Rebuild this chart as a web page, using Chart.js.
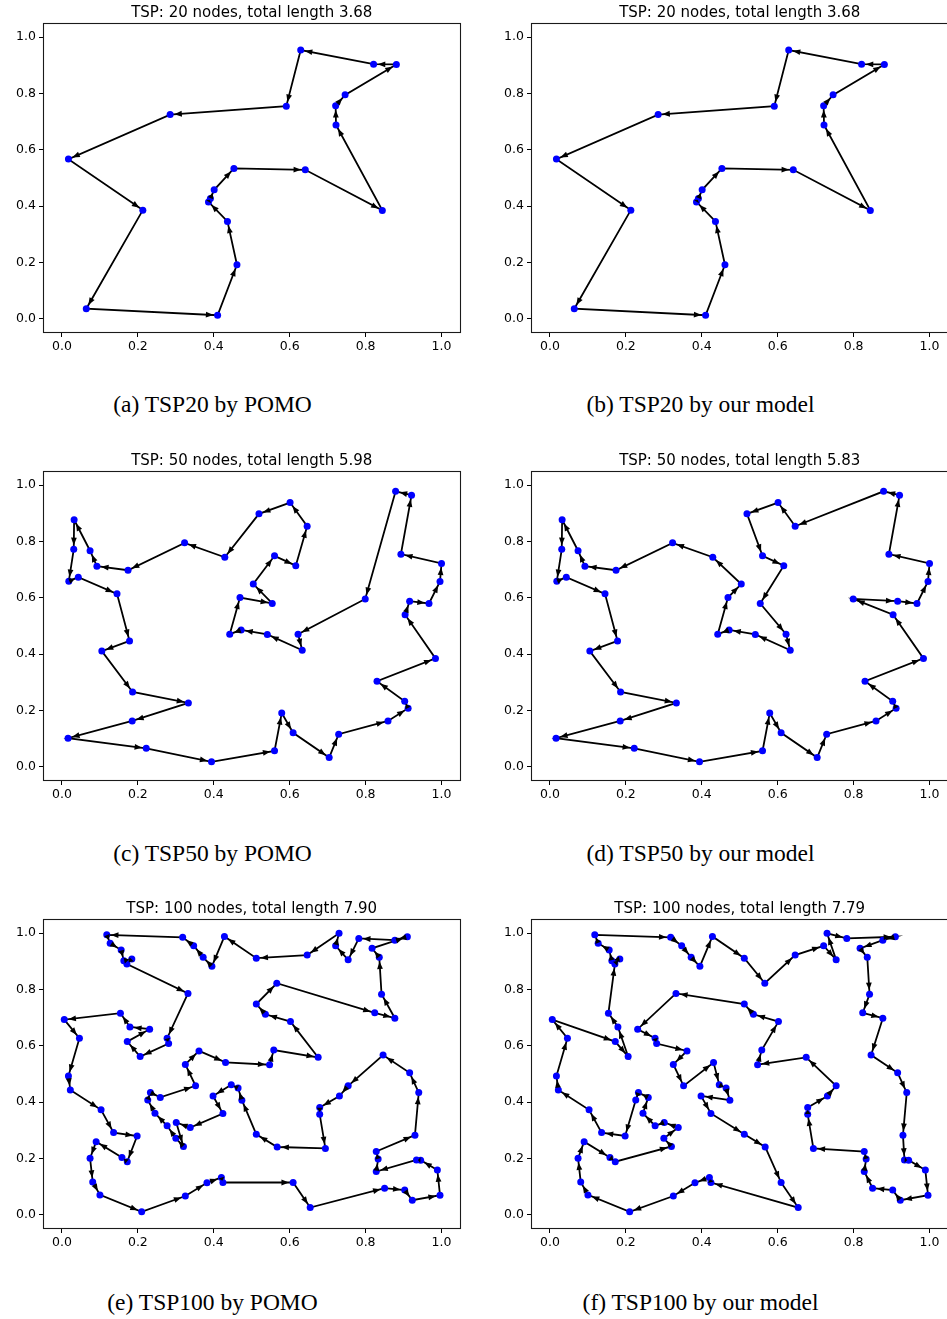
<!DOCTYPE html>
<html><head><meta charset="utf-8">
<script src="https://cdn.jsdelivr.net/npm/chart.js@4.4.1/dist/chart.umd.min.js"></script>
<style>
html,body{margin:0;padding:0;width:947px;height:1319px;overflow:hidden;background:#fff;}
canvas{position:absolute;}
.cap{position:absolute;width:440px;text-align:center;font-family:'Liberation Serif','Times New Roman',serif;font-size:23.5px;line-height:28px;color:#000;white-space:nowrap;}
</style></head><body>
<script>
// ---------- data ----------
const tickValues = [0.0, 0.2, 0.4, 0.6, 0.8, 1.0];

// TSP20 instance (panels a, b)
const tsp20X = [0.881,0.821,0.629,0.591,0.285,0.017,0.213,0.064,0.410,0.461,0.436,0.386,0.391,0.401,0.453,0.641,0.844,0.722,0.721,0.746];
const tsp20Y = [0.903,0.904,0.954,0.755,0.725,0.567,0.386,0.036,0.013,0.192,0.346,0.415,0.427,0.458,0.534,0.529,0.385,0.688,0.756,0.795];
const tourA = [1,2,3,4,5,6,7,8,9,10,11,12,13,14,15,16,17,18,19,20];
const tourB = [1,2,3,4,5,6,7,8,9,10,11,12,13,14,15,16,17,18,19,20];

// TSP50 instance (panels c, d)
const tsp50X = [0.032,0.031,0.018,0.043,0.074,0.092,0.174,0.323,0.429,0.519,0.601,0.646,0.616,0.560,0.504,0.554,0.469,0.442,0.472,0.541,0.633,0.622,0.799,0.879,0.921,0.893,1.000,0.996,0.967,0.916,0.904,0.984,0.830,0.903,0.912,0.859,0.729,0.704,0.609,0.579,0.560,0.394,0.222,0.016,0.185,0.333,0.186,0.105,0.178,0.145];
const tsp50Y = [0.877,0.772,0.659,0.673,0.767,0.712,0.698,0.795,0.744,0.898,0.938,0.854,0.714,0.749,0.649,0.580,0.601,0.471,0.486,0.470,0.414,0.471,0.596,0.978,0.964,0.755,0.722,0.658,0.580,0.588,0.540,0.385,0.304,0.233,0.208,0.163,0.116,0.033,0.121,0.191,0.057,0.018,0.066,0.102,0.163,0.227,0.266,0.411,0.447,0.614];
const tourC = [1,2,3,4,50,49,48,47,46,45,44,43,42,41,40,39,38,37,36,35,34,33,32,31,30,29,28,27,26,25,24,23,22,21,20,19,18,17,16,15,14,13,12,11,10,9,8,7,6,5];
const tourD = [1,2,3,4,50,49,48,47,46,45,44,43,42,41,40,39,38,37,36,35,34,33,32,31,23,30,29,28,27,26,25,24,12,11,10,14,13,16,22,21,20,19,18,17,15,9,8,7,6,5];

// TSP100 instance (panels e, f)
const tsp100X = [0.118,0.127,0.156,0.163,0.184,0.171,0.332,0.277,0.281,0.206,
 0.172,0.231,0.179,0.154,0.006,0.046,0.017,0.022,0.103,0.136,
 0.198,0.172,0.158,0.090,0.074,0.081,0.100,0.210,0.325,0.382,
 0.420,0.424,0.609,0.654,0.850,0.903,0.923,0.996,0.989,0.945,
 0.934,0.828,0.833,0.828,0.930,0.940,0.916,0.846,0.754,0.731,
 0.679,0.679,0.694,0.567,0.512,0.474,0.464,0.446,0.398,0.424,
 0.338,0.301,0.320,0.300,0.277,0.245,0.226,0.233,0.259,0.352,
 0.325,0.361,0.431,0.547,0.558,0.675,0.602,0.536,0.512,0.566,
 0.824,0.877,0.842,0.836,0.817,0.910,0.877,0.782,0.754,0.721,
 0.730,0.646,0.512,0.428,0.395,0.372,0.347,0.318];
const tsp100Y = [0.994,0.964,0.940,0.902,0.908,0.890,0.786,0.627,0.608,0.562,
 0.615,0.659,0.667,0.716,0.693,0.627,0.493,0.443,0.373,0.292,
 0.280,0.189,0.204,0.260,0.201,0.117,0.071,0.011,0.067,0.114,
 0.133,0.115,0.115,0.026,0.095,0.088,0.052,0.070,0.159,0.194,
 0.195,0.154,0.198,0.225,0.283,0.434,0.504,0.567,0.458,0.422,
 0.381,0.357,0.236,0.241,0.286,0.407,0.450,0.462,0.422,0.360,
 0.310,0.328,0.243,0.272,0.316,0.361,0.408,0.434,0.417,0.458,
 0.534,0.582,0.541,0.533,0.585,0.559,0.686,0.712,0.748,0.822,
 0.717,0.698,0.783,0.914,0.946,0.987,0.975,0.981,0.905,0.955,
 0.999,0.922,0.911,0.988,0.882,0.914,0.955,0.985];
const tourE = [1,2,3,4,5,6,7,8,9,10,11,12,13,14,15,16,17,18,19,20,21,22,23,24,25,26,27,28,29,30,31,32,33,34,35,36,37,38,39,40,41,42,43,44,45,46,47,48,49,50,51,52,53,54,55,56,57,58,59,60,61,62,63,64,65,66,67,68,69,70,71,72,73,74,75,76,77,78,79,80,81,82,83,84,85,86,87,88,89,90,91,92,93,94,95,96,97,98];
const tourF = [1,98,97,96,95,94,93,80,92,90,89,91,88,86,87,85,84,83,81,82,48,47,46,45,41,40,39,38,37,36,35,42,43,44,53,52,51,50,49,76,74,75,77,78,79,7,12,8,9,72,71,70,73,58,57,56,59,60,55,54,33,34,32,31,30,29,28,27,26,25,24,23,22,63,64,61,62,65,66,69,68,67,21,20,19,18,17,16,15,11,10,13,14,6,5,4,3,2];

const titles = ['TSP: 20 nodes, total length 3.68','TSP: 20 nodes, total length 3.68',
  'TSP: 50 nodes, total length 5.98','TSP: 50 nodes, total length 5.83',
  'TSP: 100 nodes, total length 7.90','TSP: 100 nodes, total length 7.79'];
const captions = ['(a) TSP20 by POMO','(b) TSP20 by our model','(c) TSP50 by POMO','(d) TSP50 by our model','(e) TSP100 by POMO','(f) TSP100 by our model'];

// ---------- layout ----------
const colLeft = [1, 489];
const rowTop = [0, 448, 896];
const capCX = [212.5, 700.5];
const capCY = [404, 852.5, 1301.5];
const CW = 463, CH = 363;

const panels = [
  {xs:tsp20X, ys:tsp20Y, tour:tourA},
  {xs:tsp20X, ys:tsp20Y, tour:tourB},
  {xs:tsp50X, ys:tsp50Y, tour:tourC},
  {xs:tsp50X, ys:tsp50Y, tour:tourD},
  {xs:tsp100X, ys:tsp100Y, tour:tourE},
  {xs:tsp100X, ys:tsp100Y, tour:tourF}
];

const framePlugin = {
  id:'frame',
  afterDraw(chart){
    const a = chart.chartArea, ctx = chart.ctx;
    ctx.save();
    ctx.strokeStyle = '#1a1a1a';
    ctx.lineWidth = 1.1;
    ctx.strokeRect(Math.round(a.left)+0.5, Math.round(a.top)+0.5, Math.round(a.right-a.left)-1, Math.round(a.bottom-a.top)-1);
    ctx.restore();
  }
};

const arrowPlugin = {
  id:'arrows',
  afterDatasetsDraw(chart){
    const els = chart.getDatasetMeta(1).data;
    const ctx = chart.ctx;
    ctx.save();
    ctx.fillStyle = '#000';
    for (let i = 0; i < els.length - 1; i++) {
      const p = els[i], q = els[i+1];
      const dx = q.x - p.x, dy = q.y - p.y, L = Math.hypot(dx, dy);
      if (L < 1e-6) continue;
      const ux = dx / L, uy = dy / L;
      const tip = Math.min(4.2, L * 0.35);
      const tx = q.x - ux * tip, ty = q.y - uy * tip;
      const hl = Math.min(7.5, L * 0.6), hw = 2.9;
      const bx = tx - ux * hl, by = ty - uy * hl;
      ctx.beginPath();
      ctx.moveTo(tx, ty);
      ctx.lineTo(bx - uy * hw, by + ux * hw);
      ctx.lineTo(bx + uy * hw, by - ux * hw);
      ctx.closePath();
      ctx.fill();
    }
    ctx.restore();
  }
};

const tickFont = {family:'DejaVu Sans', size:12.5};

panels.forEach((pn, k) => {
  const col = k % 2, row = Math.floor(k / 2);
  const cv = document.createElement('canvas');
  cv.width = CW; cv.height = CH;
  cv.style.left = colLeft[col] + 'px';
  cv.style.top = rowTop[row] + 'px';
  document.body.appendChild(cv);

  const pts = pn.xs.map((x, i) => ({x:x, y:pn.ys[i]}));
  const loop = pn.tour.map(n => ({x:pn.xs[n-1], y:pn.ys[n-1]}));
  loop.push({x:pn.xs[pn.tour[0]-1], y:pn.ys[pn.tour[0]-1]});

  new Chart(cv, {
    type:'scatter',
    data:{datasets:[
      {label:'nodes', data:pts, pointRadius:3.5, pointHoverRadius:3.5, backgroundColor:'#0000ff', pointBorderWidth:0, borderWidth:0, order:0},
      {label:'tour', data:loop, showLine:true, borderColor:'#000', borderWidth:1.8, pointRadius:0, pointHoverRadius:0, fill:false, tension:0, order:1}
    ]},
    options:{
      responsive:false, animation:false, devicePixelRatio:1, events:[],
      layout:{padding:0},
      plugins:{
        legend:{display:false},
        tooltip:{enabled:false},
        title:{display:true, text:titles[k], fullSize:false, color:'#000',
               font:{family:'DejaVu Sans', size:15, weight:'normal'}, padding:{top:4, bottom:1}}
      },
      scales:{
        x:{type:'linear', min:-0.05, max:1.05,
           afterBuildTicks:s => { s.ticks = tickValues.map(v => ({value:v})); },
           afterFit:s => { s.height = 30; s.paddingLeft = 0; s.paddingRight = 0; },
           ticks:{callback:v => Number(v).toFixed(1), font:tickFont, color:'#000', padding:2, maxRotation:0, autoSkip:false},
           grid:{display:true, drawOnChartArea:false, drawTicks:true, tickLength:4, color:'#000', lineWidth:1},
           border:{display:false}},
        y:{type:'linear', min:-0.05, max:1.05,
           afterBuildTicks:s => { s.ticks = tickValues.map(v => ({value:v})); },
           afterFit:s => { s.width = 42; s.paddingTop = 0; s.paddingBottom = 0; },
           ticks:{callback:v => Number(v).toFixed(1), font:tickFont, color:'#000', padding:3, autoSkip:false},
           grid:{display:true, drawOnChartArea:false, drawTicks:true, tickLength:4, color:'#000', lineWidth:1},
           border:{display:false}}
      }
    },
    plugins:[framePlugin, arrowPlugin]
  });

  const cap = document.createElement('div');
  cap.className = 'cap';
  cap.textContent = captions[k];
  cap.style.left = (capCX[col] - 220) + 'px';
  cap.style.top = (capCY[row] - 14) + 'px';
  document.body.appendChild(cap);
});
</script>
</body></html>
